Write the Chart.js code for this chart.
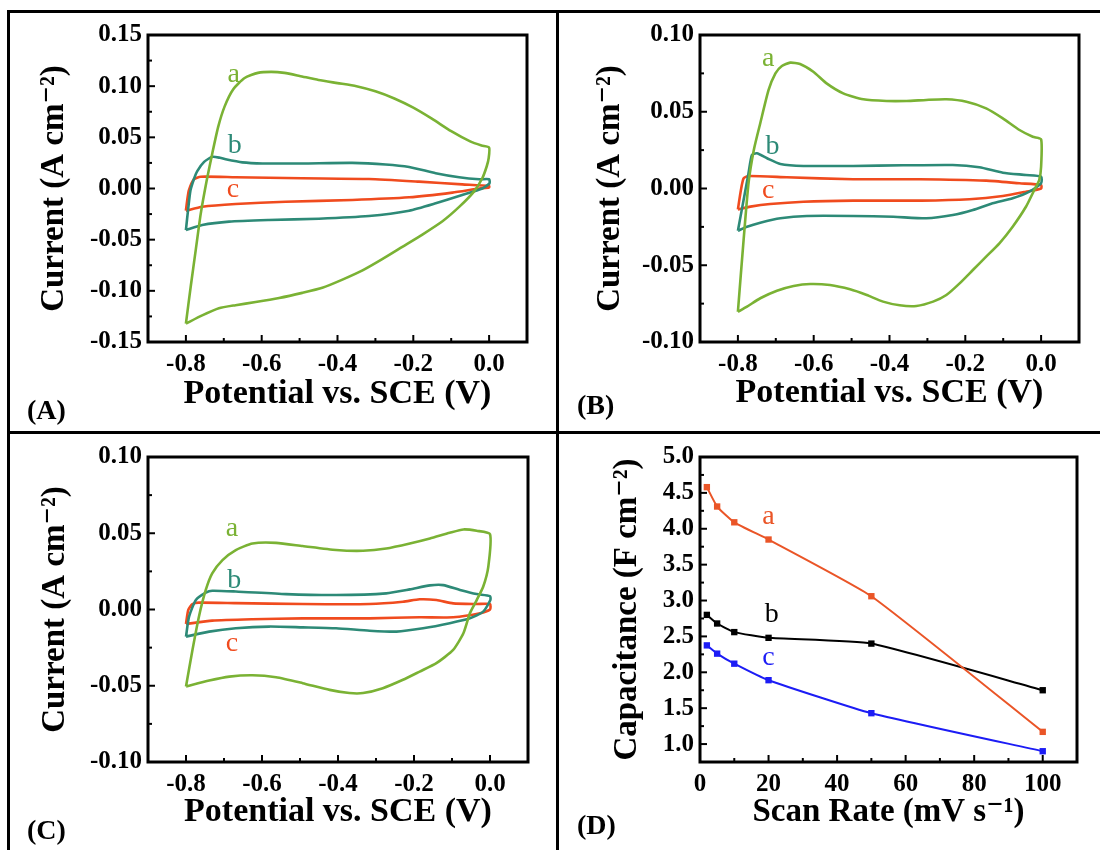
<!DOCTYPE html>
<html><head><meta charset="utf-8">
<script src="https://cdn.jsdelivr.net/npm/chart.js@4.4.1/dist/chart.umd.min.js"></script>
<style>
html,body{margin:0;padding:0;background:#fff;}
#wrap{position:relative;width:1100px;height:850px;overflow:hidden;background:#fff;}
canvas{position:absolute;left:0;top:0;}
.ln{position:absolute;background:#000;}
.pl{position:absolute;font-family:'Liberation Serif','Times New Roman',serif;font-weight:bold;font-size:28px;line-height:1;color:#000;}
</style></head><body>
<div id="wrap">
<canvas id="cA" width="1100" height="850"></canvas>
<canvas id="cB" width="1100" height="850"></canvas>
<canvas id="cC" width="1100" height="850"></canvas>
<canvas id="cD" width="1100" height="850"></canvas>
<div class="ln" style="left:7px;top:10px;width:1093px;height:3px"></div>
<div class="ln" style="left:7px;top:10px;width:3px;height:840px"></div>
<div class="ln" style="left:556px;top:10px;width:3px;height:840px"></div>
<div class="ln" style="left:7px;top:431px;width:1093px;height:3px"></div>
<div class="pl" style="left:27px;top:396px">(A)</div>
<div class="pl" style="left:577px;top:391px">(B)</div>
<div class="pl" style="left:27px;top:816px">(C)</div>
<div class="pl" style="left:577px;top:811px">(D)</div>
</div>
<script>
// ---------- DATA ----------
// Panel A: CV loops [potential V, current A cm^-2]
const A_a = [[-0.800,-0.132],[-0.787,-0.095],[-0.774,-0.060],[-0.761,-0.025],[-0.745,0.008],[-0.730,0.035],[-0.715,0.060],[-0.698,0.080],[-0.675,0.097],[-0.645,0.108],[-0.610,0.1130],[-0.575,0.1140],[-0.540,0.1130],[-0.500,0.110],[-0.450,0.106],[-0.400,0.103],[-0.350,0.100],[-0.300,0.095],[-0.250,0.088],[-0.200,0.079],[-0.150,0.068],[-0.100,0.056],[-0.050,0.046],[-0.020,0.042],[0.000,0.040],[-0.001,0.030],[-0.006,0.022],[-0.018,0.010],[-0.040,-0.003],[-0.079,-0.018],[-0.123,-0.032],[-0.176,-0.045],[-0.229,-0.057],[-0.282,-0.069],[-0.334,-0.080],[-0.387,-0.089],[-0.440,-0.097],[-0.493,-0.102],[-0.554,-0.107],[-0.616,-0.111],[-0.669,-0.114],[-0.713,-0.117],[-0.757,-0.124],[-0.800,-0.132]];
const A_b = [[-0.800,-0.0406],[-0.794,-0.020],[-0.788,-0.002],[-0.779,0.009],[-0.770,0.017],[-0.752,0.026],[-0.730,0.031],[-0.710,0.030],[-0.695,0.0285],[-0.651,0.0255],[-0.598,0.0245],[-0.493,0.0245],[-0.361,0.025],[-0.273,0.0235],[-0.211,0.021],[-0.141,0.015],[-0.079,0.011],[-0.026,0.009],[0.000,0.009],[0.001,0.005],[-0.018,0.000],[-0.071,-0.0064],[-0.141,-0.0145],[-0.211,-0.0217],[-0.317,-0.0269],[-0.449,-0.0295],[-0.581,-0.0308],[-0.686,-0.0324],[-0.757,-0.0357],[-0.800,-0.0406]];
const A_c = [[-0.800,-0.0217],[-0.796,-0.010],[-0.792,-0.0015],[-0.779,0.009],[-0.761,0.0115],[-0.669,0.011],[-0.493,0.010],[-0.317,0.0093],[-0.185,0.0067],[-0.071,0.004],[0.000,0.0024],[0.000,0.001],[-0.026,0.000],[-0.097,-0.004],[-0.211,-0.0086],[-0.361,-0.0112],[-0.537,-0.0129],[-0.669,-0.0151],[-0.757,-0.0178],[-0.800,-0.0217]];
// Panel B
const B_a = [[-0.800,-0.0803],[-0.785,-0.0336],[-0.772,0.0034],[-0.758,0.0251],[-0.741,0.0425],[-0.719,0.0642],[-0.701,0.0750],[-0.684,0.0798],[-0.662,0.0820],[-0.636,0.0811],[-0.601,0.0761],[-0.566,0.0685],[-0.522,0.0620],[-0.469,0.0581],[-0.408,0.0570],[-0.355,0.0570],[-0.303,0.0577],[-0.250,0.0581],[-0.197,0.0565],[-0.145,0.0522],[-0.101,0.0457],[-0.057,0.0381],[-0.022,0.0337],[0.000,0.0320],[0.000,0.0142],[-0.005,0.0055],[-0.018,-0.0010],[-0.040,-0.0119],[-0.075,-0.0249],[-0.110,-0.0357],[-0.145,-0.0444],[-0.180,-0.0531],[-0.215,-0.0618],[-0.250,-0.0694],[-0.285,-0.0737],[-0.329,-0.0765],[-0.373,-0.0761],[-0.417,-0.0737],[-0.460,-0.0694],[-0.504,-0.0657],[-0.557,-0.0629],[-0.609,-0.0622],[-0.653,-0.0635],[-0.697,-0.0666],[-0.741,-0.0715],[-0.776,-0.0770],[-0.800,-0.0803]];
const B_b = [[-0.800,-0.0275],[-0.785,-0.0075],[-0.772,0.0099],[-0.763,0.0218],[-0.750,0.0229],[-0.723,0.0197],[-0.688,0.0160],[-0.627,0.0147],[-0.496,0.0147],[-0.364,0.0151],[-0.233,0.0153],[-0.163,0.0138],[-0.101,0.0103],[-0.040,0.0088],[0.000,0.0077],[0.000,0.0034],[-0.031,-0.0021],[-0.075,-0.0064],[-0.128,-0.0096],[-0.180,-0.0140],[-0.233,-0.0173],[-0.303,-0.0194],[-0.390,-0.0184],[-0.496,-0.0179],[-0.618,-0.0179],[-0.688,-0.0194],[-0.741,-0.0223],[-0.776,-0.0249],[-0.800,-0.0275]];
const B_c = [[-0.800,-0.0136],[-0.792,-0.0010],[-0.785,0.0066],[-0.772,0.0081],[-0.671,0.0073],[-0.496,0.0060],[-0.321,0.0060],[-0.145,0.0051],[-0.057,0.0034],[0.000,0.0023],[0.000,0.0000],[-0.040,-0.0021],[-0.101,-0.0049],[-0.189,-0.0070],[-0.316,-0.0079],[-0.496,-0.0079],[-0.627,-0.0086],[-0.715,-0.0101],[-0.767,-0.0118],[-0.800,-0.0136]];
// Panel C
const C_a = [[-0.800,-0.0505],[-0.783,-0.0265],[-0.766,-0.0047],[-0.748,0.0128],[-0.731,0.0237],[-0.704,0.0324],[-0.669,0.0390],[-0.625,0.0433],[-0.563,0.0437],[-0.493,0.0416],[-0.405,0.0390],[-0.334,0.0385],[-0.273,0.0400],[-0.211,0.0433],[-0.158,0.0466],[-0.106,0.0503],[-0.070,0.0525],[-0.035,0.0516],[0.000,0.0494],[-0.0045,0.0280],[-0.018,0.0149],[-0.035,0.0062],[-0.053,-0.0025],[-0.070,-0.0156],[-0.097,-0.0265],[-0.141,-0.0352],[-0.185,-0.0407],[-0.229,-0.0461],[-0.282,-0.0516],[-0.334,-0.0548],[-0.370,-0.0548],[-0.422,-0.0527],[-0.493,-0.0483],[-0.563,-0.0444],[-0.625,-0.0431],[-0.686,-0.0440],[-0.739,-0.0466],[-0.800,-0.0505]];
const C_b = [[-0.800,-0.0178],[-0.792,-0.0047],[-0.774,0.0062],[-0.748,0.0110],[-0.731,0.0123],[-0.669,0.0118],[-0.537,0.0101],[-0.405,0.0095],[-0.273,0.0106],[-0.211,0.0132],[-0.158,0.0158],[-0.123,0.0160],[-0.079,0.0128],[-0.035,0.0101],[0.000,0.0088],[0.001,0.0062],[-0.018,-0.0014],[-0.053,-0.0058],[-0.106,-0.0090],[-0.176,-0.0123],[-0.246,-0.0145],[-0.317,-0.0139],[-0.405,-0.0123],[-0.493,-0.0117],[-0.581,-0.0112],[-0.669,-0.0123],[-0.739,-0.0145],[-0.800,-0.0178]];
const C_c = [[-0.800,-0.0095],[-0.794,-0.0003],[-0.783,0.0036],[-0.766,0.0045],[-0.669,0.0042],[-0.493,0.0036],[-0.317,0.0036],[-0.229,0.0051],[-0.185,0.0067],[-0.141,0.0062],[-0.097,0.0040],[-0.035,0.0036],[0.000,0.0036],[0.000,0.0000],[-0.026,-0.0025],[-0.097,-0.0051],[-0.185,-0.0051],[-0.317,-0.0058],[-0.493,-0.0058],[-0.625,-0.0064],[-0.731,-0.0073],[-0.800,-0.0095]];
// Panel D: capacitance vs scan rate
const scanRates = [2, 5, 10, 20, 50, 100];
const D_a = [4.58, 4.31, 4.09, 3.85, 3.06, 1.17];
const D_b = [2.80, 2.68, 2.56, 2.48, 2.40, 1.75];
const D_c = [2.375, 2.26, 2.12, 1.89, 1.43, 0.90];
// curve labels [text, x, y] in data units
const A_labels = [['a',-0.674,0.104],['b',-0.671,0.0347],['c',-0.676,-0.0083]];
const B_labels = [['a',-0.720,0.0798],['b',-0.709,0.0223],['c',-0.720,-0.006]];
const C_labels = [['a',-0.679,0.0481],['b',-0.673,0.0143],['c',-0.679,-0.0272]];
const D_labels = [['a',20.0,4.07],['b',20.9,2.70],['c',20.0,2.10]];

// ---------- STYLE ----------
const FONT = "'Liberation Serif','Times New Roman','DejaVu Serif',serif";
const GREEN = '#7ab234', TEAL = '#2d8a77', ORANGE = '#f04b1e';
const D_COLORS = ['#ea5527', '#000000', '#1c1cf5'];
const CV_COLORS = [GREEN, TEAL, ORANGE];

function isMult(v, s){ const r = v / s; return Math.abs(r - Math.round(r)) < 1e-6; }
function fmt(v, d){ if (Math.abs(v) < 1e-9) v = 0; return v.toFixed(d); }

const axisDecor = {
  id: 'axisDecor',
  afterDatasetsDraw(chart, args, o){
    const {ctx, chartArea: a, scales: {x, y}} = chart;
    ctx.save();
    ctx.strokeStyle = '#000';
    ctx.lineWidth = 2;
    const tick = (scale, minor, major, hor) => {
      for (const t of scale.ticks){
        const v = t.value;
        if (!isMult(v, minor)) continue;
        const p = scale.getPixelForValue(v);
        const L = isMult(v, major) ? 7 : 4;
        if (hor){
          if (p <= a.left + 1 || p >= a.right - 1) continue;
          ctx.beginPath(); ctx.moveTo(p, a.bottom); ctx.lineTo(p, a.bottom - L); ctx.stroke();
        } else {
          if (p <= a.top + 1 || p >= a.bottom - 1) continue;
          ctx.beginPath(); ctx.moveTo(a.left, p); ctx.lineTo(a.left + L, p); ctx.stroke();
        }
      }
    };
    tick(x, o.xMinor, o.xMajor, true);
    tick(y, o.yMinor, o.yMajor, false);
    ctx.lineWidth = 3;
    ctx.strokeRect(a.left, a.top, a.right - a.left, a.bottom - a.top);
    ctx.font = '28px ' + FONT;
    ctx.textAlign = 'center';
    ctx.textBaseline = 'alphabetic';
    o.labels.forEach((l, i) => {
      ctx.fillStyle = o.colors[i];
      ctx.fillText(l[0], x.getPixelForValue(l[1]), y.getPixelForValue(l[2]));
    });
    ctx.restore();
  }
};

function makeChart(id, geo, datasets, sx, sy, labels, colors){
  const tickFont = {family: FONT, size: 25, weight: 'bold'};
  return new Chart(document.getElementById(id), {
    type: 'scatter',
    data: {datasets},
    options: {
      responsive: false, animation: false, events: [],
      layout: {padding: {left: geo.padL, right: 1100 - geo.right, top: geo.top, bottom: 850 - geo.xTitleY - 16}},
      plugins: {
        legend: {display: false}, tooltip: {enabled: false},
        axisDecor: {xMinor: sx.step, xMajor: sx.major, yMinor: sy.step, yMajor: sy.major, labels, colors}
      },
      scales: {
        x: {
          type: 'linear', position: 'bottom', min: sx.min, max: sx.max,
          afterFit: s => { s.height = geo.xTitleY + 16 - geo.bottom; },
          grid: {display: false, drawTicks: false}, border: {display: false},
          ticks: {stepSize: sx.step, autoSkip: false, maxRotation: 0, minRotation: 0, padding: 8, color: '#000', font: tickFont,
                  callback: v => isMult(v, sx.major) ? fmt(v, sx.dec) : ''},
          title: {display: true, text: sx.title, color: '#000', padding: 0,
                  font: {family: FONT, size: sx.tsize, weight: 'bold', lineHeight: 1}}
        },
        y: {
          type: 'linear', position: 'left', min: sy.min, max: sy.max,
          afterFit: s => { s.width = geo.left - geo.padL; },
          grid: {display: false, drawTicks: false}, border: {display: false},
          ticks: {stepSize: sy.step, autoSkip: false, padding: 6, color: '#000', font: tickFont,
                  callback: v => isMult(v, sy.major) ? fmt(v, sy.dec) : ''},
          title: {display: true, text: sy.title, color: '#000', padding: 0,
                  font: {family: FONT, size: sy.tsize, weight: 'bold', lineHeight: 1}}
        }
      }
    },
    plugins: [axisDecor]
  });
}

function cvSets(list){
  return list.map((arr, i) => ({
    data: arr.map(p => ({x: p[0], y: p[1]})),
    showLine: true, borderColor: CV_COLORS[i], borderWidth: 2.6,
    pointRadius: 0, tension: 0.2, fill: false
  }));
}

const xCV = {min: -0.9, max: 0.1, step: 0.1, major: 0.2, dec: 1, tsize: 34, title: 'Potential vs. SCE (V)'};
const yTitleCV = 'Current (A cm\u207B\u00B2)';

makeChart('cA', {left: 148, right: 527, top: 35, bottom: 342, padL: 38, xTitleY: 395},
  cvSets([A_a, A_b, A_c]), xCV,
  {min: -0.15, max: 0.15, step: 0.025, major: 0.05, dec: 2, tsize: 33, title: yTitleCV}, A_labels, CV_COLORS);

makeChart('cB', {left: 700, right: 1079, top: 35, bottom: 342, padL: 594, xTitleY: 394},
  cvSets([B_a, B_b, B_c]), xCV,
  {min: -0.10, max: 0.10, step: 0.025, major: 0.05, dec: 2, tsize: 33, title: yTitleCV}, B_labels, CV_COLORS);

makeChart('cC', {left: 148, right: 528, top: 457, bottom: 762, padL: 39, xTitleY: 813},
  cvSets([C_a, C_b, C_c]), xCV,
  {min: -0.10, max: 0.10, step: 0.025, major: 0.05, dec: 2, tsize: 33, title: yTitleCV}, C_labels, CV_COLORS);

const dSets = [D_a, D_b, D_c].map((vals, i) => ({
  data: scanRates.map((r, k) => ({x: r, y: vals[k]})),
  showLine: true, borderColor: D_COLORS[i], backgroundColor: D_COLORS[i], borderWidth: 2,
  pointStyle: 'rect', pointRadius: 4.5, pointBorderWidth: 0, tension: 0.15, fill: false
}));

makeChart('cD', {left: 700, right: 1077, top: 457, bottom: 762, padL: 611, xTitleY: 813},
  dSets, {min: 0, max: 110, step: 10, major: 20, dec: 0, tsize: 33, title: 'Scan Rate (mV s\u207B\u00B9)'},
  {min: 0.75, max: 5.0, step: 0.25, major: 0.5, dec: 1, tsize: 33, title: 'Capacitance (F cm\u207B\u00B2)'}, D_labels, D_COLORS);
</script>
</body></html>
